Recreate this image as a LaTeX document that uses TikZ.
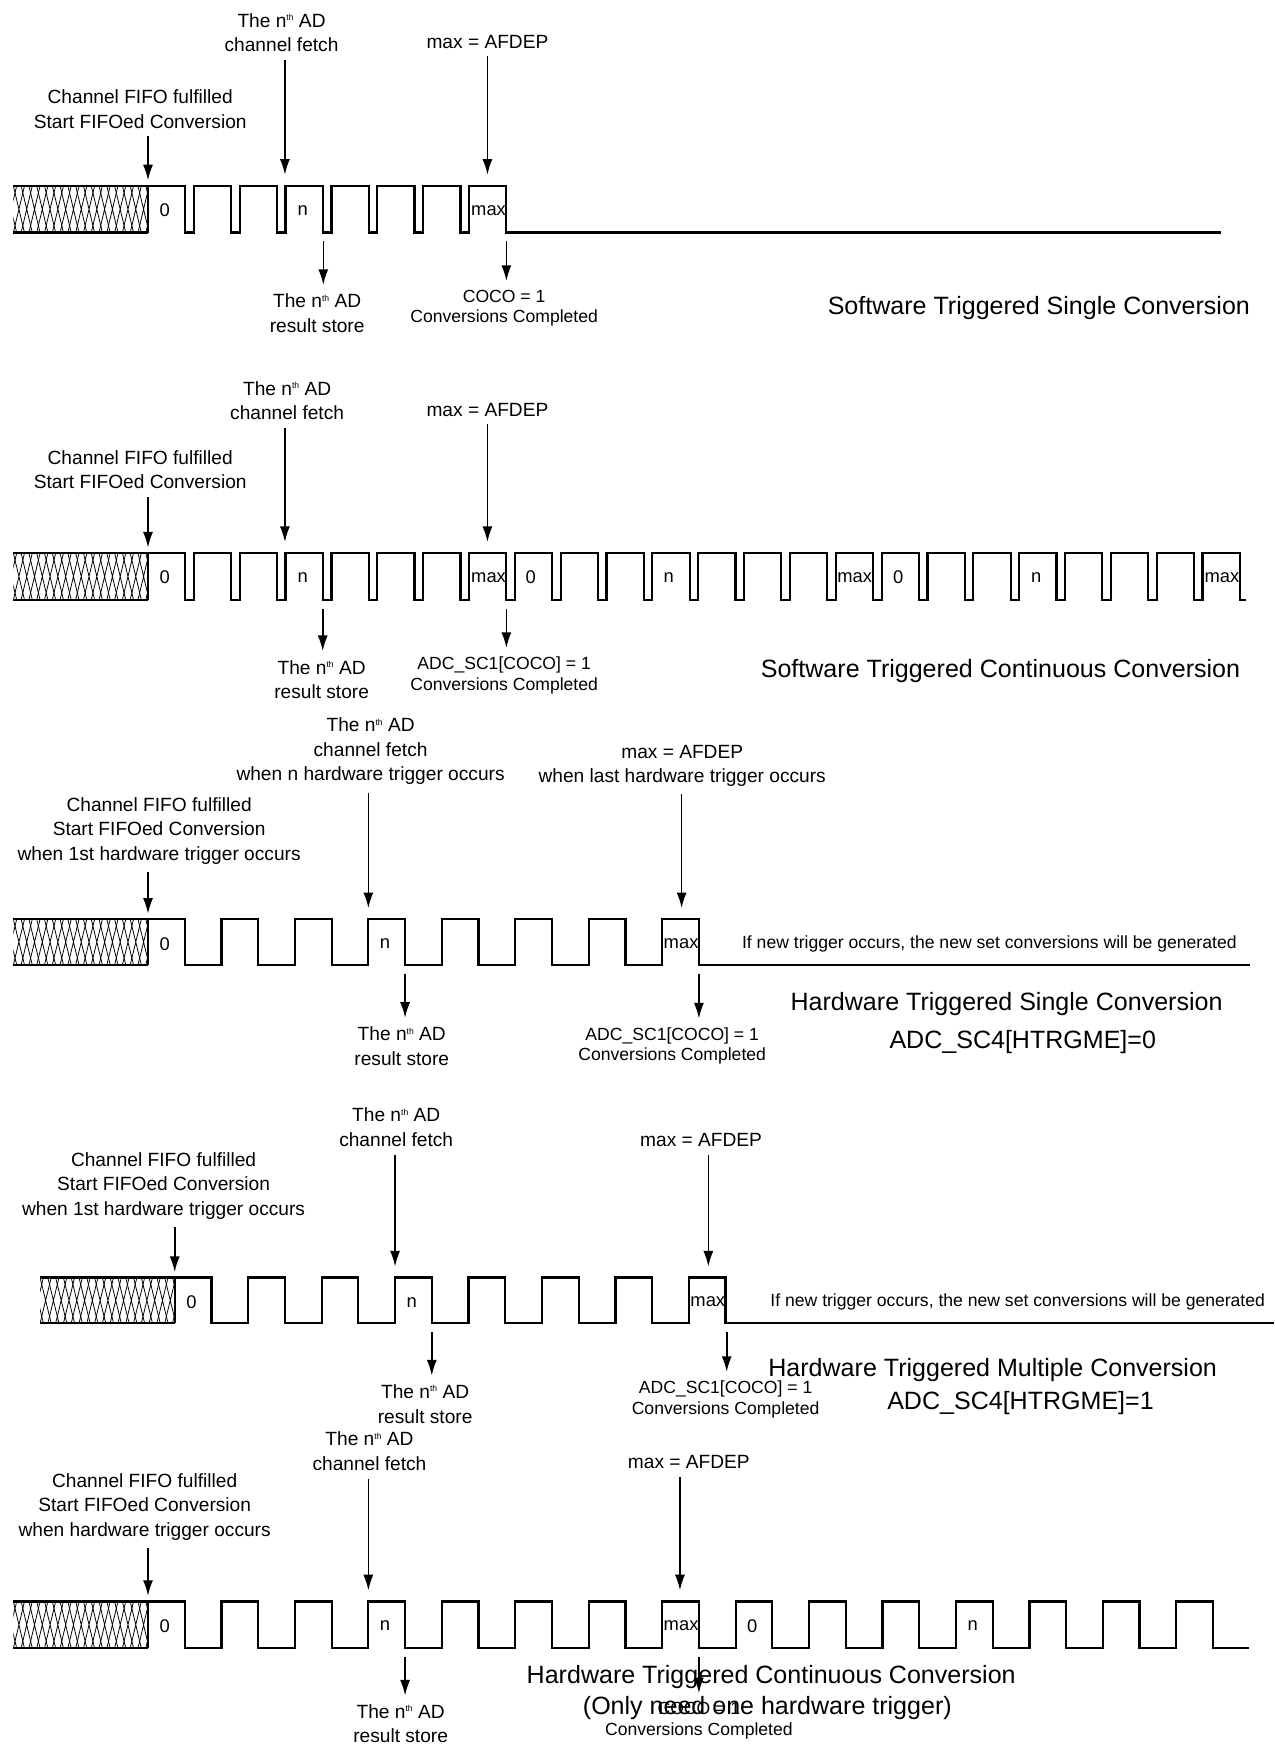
\documentclass[tikz,border=0pt]{standalone}
\usepackage{fontspec}
\setmainfont{Liberation Sans}
\usepackage{graphicx}
\usepackage{tikz}
\usetikzlibrary{arrows.meta}

\newcommand{\nthtxt}{n\raisebox{0.65ex}{\scalebox{0.45}{th}}}
\newcommand{\convrow}[7]{%
  \begin{scope}
    \clip (#1-121,#2) rectangle (#1,#2+#3);
    \foreach \i in {0,...,19}
      \draw[hatch] (#1-128+7*\i,#2) -- ++(10,#3) (#1-118+7*\i,#2) -- ++(-10,#3);
  \end{scope}
  \draw[wave] (#1-121,#2) -- (#1,#2) (#1-121,#2+#3) -- (#1,#2+#3);
  \draw[wave] (#1,#2+#3) -- (#1,#2)
    \foreach \k in {2,...,#6} { -- ++(#5,0) -- ++(0,#3) -- ++(#4-#5,0) -- ++(0,-#3) }
    -- ++(#5,0) -- ++(0,#3) -- (#7,#2+#3);
}

\tikzset{
  wave/.style={line width=2pt},
  hatch/.style={line width=0.7pt},
  pointer/.style={->, line width=1.4pt, shorten <=4pt, shorten >=5pt},
  lbl/.style={font=\fontsize{17.2}{22}\selectfont, align=center, inner sep=3pt},
  sml/.style={font=\fontsize{15.8}{18.5}\selectfont, align=center, inner sep=3pt},
  ttl/.style={font=\fontsize{22.5}{26}\selectfont, inner sep=2pt},
  val/.style={font=\fontsize{16.5}{18}\selectfont, inner sep=1pt}
}

\begin{document}
\begin{tikzpicture}[x=1pt,y=-1pt,>={Latex[length=14pt,width=9pt]}]
  \useasboundingbox (0,0) rectangle (1145,1568);

  \convrow{133}{167}{42}{41.2}{33.5}{8}{1097}
  \convrow{133}{497}{42}{41.2}{33.5}{24}{1120}
  \convrow{133}{826}{41}{66}{33}{8}{1123}
  \convrow{157}{1148}{41}{66}{33}{8}{1145}
  \convrow{133}{1439}{42}{66}{33}{15}{1122}

  \foreach \nm/\x/\y/\t in {v1a/148/189/0, v1b/272/189/n, v1c/439/189/max,
      v2a/148/519/0, v2b/272/519/n, v2c/439/519/max, v2d/477/519/0, v2e/601/519/n,
      v2f/768/519/max, v2g/807/519/0, v2h/931/519/n, v2i/1098/519/max,
      v3a/148/848/0, v3b/346/848/n, v3c/612/848/max,
      v4a/172/1170/0, v4b/370/1170/n, v4c/636/1170/max,
      v5a/148/1461/0, v5b/346/1461/n, v5c/612/1461/max, v5d/676/1461/0, v5e/874/1461/n}
    \node[val] (\nm) at (\x,\y) {\t};

  \node[lbl] (st1) at (126,98) {Channel FIFO fulfilled\\Start FIFOed Conversion};
  \node[lbl] (ft1) at (253,29.5) {The \nthtxt{} AD\\channel fetch};
  \node[lbl] (mx1) at (438,37.5) {max = AFDEP};
  \node[lbl] (rs1) at (285,281.5) {The \nthtxt{} AD\\result store};
  \node[sml] (cc1) at (453,277) {COCO = 1\\Conversions Completed};
  \node[ttl] (tt1) at (933.5,277) {Software Triggered Single Conversion};
  \coordinate (s1) at (133,167);
  \coordinate (f1) at (256,162);
  \coordinate (m1) at (438,162);
  \coordinate (r1) at (290.5,213);
  \coordinate (c1) at (455,213);
  \draw[pointer] (st1.south -| s1) -- (s1);
  \draw[pointer] (ft1.south -| f1) -- (f1);
  \draw[pointer] (mx1.south -| m1) -- (m1);
  \draw[pointer] (r1) -- (rs1.north -| r1);
  \draw[pointer] (c1) -- (cc1.north -| c1);

  \node[lbl] (st2) at (126,422) {Channel FIFO fulfilled\\Start FIFOed Conversion};
  \node[lbl] (ft2) at (258,360) {The \nthtxt{} AD\\channel fetch};
  \node[lbl] (mx2) at (438,368) {max = AFDEP};
  \node[lbl] (rs2) at (289,610.5) {The \nthtxt{} AD\\result store};
  \node[sml] (cc2) at (453,607) {ADC\_SC1[COCO] = 1\\Conversions Completed};
  \node[ttl] (tt2) at (899,603) {Software Triggered Continuous Conversion};
  \coordinate (s2) at (133,497);
  \coordinate (f2) at (256,492);
  \coordinate (m2) at (438,492);
  \coordinate (r2) at (290,543);
  \coordinate (c2) at (455,543);
  \draw[pointer] (st2.south -| s2) -- (s2);
  \draw[pointer] (ft2.south -| f2) -- (f2);
  \draw[pointer] (mx2.south -| m2) -- (m2);
  \draw[pointer] (r2) -- (rs2.north -| r2);
  \draw[pointer] (c2) -- (cc2.north -| c2);

  \node[lbl] (st3) at (143,746.5) {Channel FIFO fulfilled\\Start FIFOed Conversion\\when 1st hardware trigger occurs};
  \node[lbl] (ft3) at (333,675) {The \nthtxt{} AD\\channel fetch\\when n hardware trigger occurs};
  \node[lbl] (mx3) at (613,688) {max = AFDEP\\when last hardware trigger occurs};
  \node[lbl] (rs3) at (361,940) {The \nthtxt{} AD\\result store};
  \node[sml] (cc3) at (604,940) {ADC\_SC1[COCO] = 1\\Conversions Completed};
  \node[sml] (nt3) at (889,848) {If new trigger occurs, the new set conversions will be generated};
  \node[ttl] (tt3) at (904.5,902) {Hardware Triggered Single Conversion};
  \node[ttl] (hm3) at (919,936) {ADC\_SC4[HTRGME]=0};
  \coordinate (s3) at (133,826);
  \coordinate (f3) at (331,821);
  \coordinate (m3) at (612.5,821);
  \coordinate (r3) at (364,871);
  \coordinate (c3) at (628,871);
  \draw[pointer] (st3.south -| s3) -- (s3);
  \draw[pointer] (ft3.south -| f3) -- (f3);
  \draw[pointer] (mx3.south -| m3) -- (m3);
  \draw[pointer] (r3) -- (rs3.north -| r3);
  \draw[pointer] (c3) -- (cc3.north -| c3);

  \node[lbl] (st4) at (147,1065.5) {Channel FIFO fulfilled\\Start FIFOed Conversion\\when 1st hardware trigger occurs};
  \node[lbl] (ft4) at (356,1013) {The \nthtxt{} AD\\channel fetch};
  \node[lbl] (mx4) at (630,1024.5) {max = AFDEP};
  \node[lbl] (rs4) at (382,1261.5) {The \nthtxt{} AD\\result store};
  \node[sml] (cc4) at (652,1257.5) {ADC\_SC1[COCO] = 1\\Conversions Completed};
  \node[sml] (nt4) at (914.5,1170) {If new trigger occurs, the new set conversions will be generated};
  \node[ttl] (tt4) at (892,1231) {Hardware Triggered Multiple Conversion};
  \node[ttl] (hm4) at (917,1261) {ADC\_SC4[HTRGME]=1};
  \coordinate (s4) at (157,1148);
  \coordinate (f4) at (355,1143);
  \coordinate (m4) at (636.5,1143);
  \coordinate (r4) at (388,1193);
  \coordinate (c4) at (653,1193);
  \draw[pointer] (st4.south -| s4) -- (s4);
  \draw[pointer] (ft4.south -| f4) -- (f4);
  \draw[pointer] (mx4.south -| m4) -- (m4);
  \draw[pointer] (r4) -- (rs4.north -| r4);
  \draw[pointer] (c4) -- (cc4.north -| c4);

  \node[lbl] (st5) at (130,1354) {Channel FIFO fulfilled\\Start FIFOed Conversion\\when hardware trigger occurs};
  \node[lbl] (ft5) at (332,1304) {The \nthtxt{} AD\\channel fetch};
  \node[lbl] (mx5) at (619,1314) {max = AFDEP};
  \node[lbl] (rs5) at (360,1549) {The \nthtxt{} AD\\result store};
  \node[sml] (cc5) at (628,1546) {COCO = 1\\Conversions Completed};
  \node[ttl] (tt5) at (693,1507) {Hardware Triggered Continuous Conversion};
  \node[ttl] (on5) at (689.5,1535) {(Only need one hardware trigger)};
  \coordinate (s5) at (133,1439);
  \coordinate (f5) at (331,1434);
  \coordinate (m5) at (611,1434);
  \coordinate (r5) at (364,1485);
  \coordinate (c5) at (628,1485);
  \draw[pointer] (st5.south -| s5) -- (s5);
  \draw[pointer] (ft5.south -| f5) -- (f5);
  \draw[pointer] (mx5.south -| m5) -- (m5);
  \draw[pointer] (r5) -- (rs5.north -| r5);
  \draw[pointer] (c5) -- (cc5.north -| c5);
\end{tikzpicture}
\end{document}
